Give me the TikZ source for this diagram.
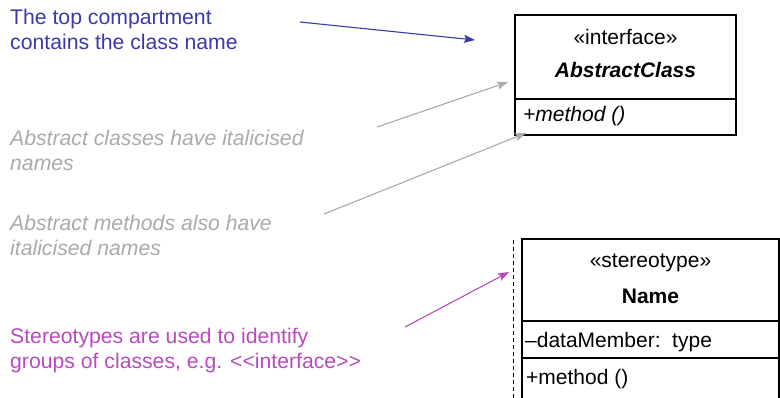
\documentclass[tikz,border=0pt]{standalone}
\usepackage{fontspec}
\setmainfont{Liberation Sans}
\usetikzlibrary{arrows.meta}
\definecolor{noteblue}{RGB}{58,58,168}
\definecolor{notegray}{RGB}{170,170,170}
\definecolor{notemag}{RGB}{184,74,190}
\tikzset{
  note/.style={anchor=base west, inner sep=0pt, align=left,
    font=\fontsize{21.2}{25}\selectfont},
  boxtext/.style={inner sep=0pt, font=\fontsize{21}{25}\selectfont},
  classline/.style={draw=black, line width=1.1pt},
  pointer/.style={line width=1.1pt, -{Stealth[length=11pt,width=8pt,inset=2pt]}},
}
\begin{document}
\begin{tikzpicture}[x=1pt,y=-1pt]
\useasboundingbox (0,0) rectangle (780,397);

% interface class box
\node[classline, minimum width=221pt, minimum height=120pt, inner sep=0pt] (acbox) at (625.5,75) {};
\draw[classline] (515,99) -- (736,99);
\node[boxtext, anchor=base] (acstereo) at (625.5,44) {«interface»};
\node[boxtext, anchor=base, font=\fontsize{21}{25}\selectfont\bfseries\itshape] (acname) at (625.5,77) {AbstractClass};
\node[boxtext, anchor=base west, font=\fontsize{21}{25}\selectfont\itshape] (acmeth) at (523,121) {+method ()};

% stereotyped class box, open at the bottom
\draw[classline] (522,402) -- (522,239) -- (779,239) -- (779,402);
\draw[classline] (522,321) -- (779,321);
\draw[classline] (522,358) -- (779,358);
\draw[line width=1pt, dash pattern=on 4pt off 3pt] (513,240) -- (513,402);
\node[boxtext, anchor=base] (ststereo) at (650.5,267) {«stereotype»};
\node[boxtext, anchor=base, font=\fontsize{21}{25}\selectfont\bfseries] (stname) at (650.5,303) {Name};
\node[boxtext, anchor=base west] (stattr) at (525,347) {–dataMember:\ \ type};
\node[boxtext, anchor=base west] (stmeth) at (526,384) {+method ()};

% notes (anchored at the baseline of their last line)
\node[note, text=noteblue] (n1) at (10,49) {The top compartment\\contains the class name};
\node[note, text=notegray, font=\fontsize{21.2}{25}\selectfont\itshape] (n2) at (10,170) {Abstract classes have italicised\\names};
\node[note, text=notegray, font=\fontsize{21.2}{25}\selectfont\itshape] (n3) at (10,255) {Abstract methods also have\\italicised names};
\node[note, text=notemag] (n4) at (10,368) {Stereotypes are used to identify\\groups of classes, e.g. <{}<interface>{}>};

% pointer ends
\coordinate (p1s) at (300,22);
\coordinate (p1e) at (475,40);
\coordinate (p2s) at (377,127);
\coordinate (p2e) at (508,82);
\coordinate (p3s) at (324,214);
\coordinate (p3e) at (526,133);
\coordinate (p4s) at (405,327);
\coordinate (p4e) at (509,272);

\draw[pointer, noteblue] (p1s) -- (p1e);
\draw[pointer, notegray] (p2s) -- (p2e);
\draw[pointer, notegray] (p3s) -- (p3e);
\draw[pointer, notemag] (p4s) -- (p4e);
\end{tikzpicture}
\end{document}
